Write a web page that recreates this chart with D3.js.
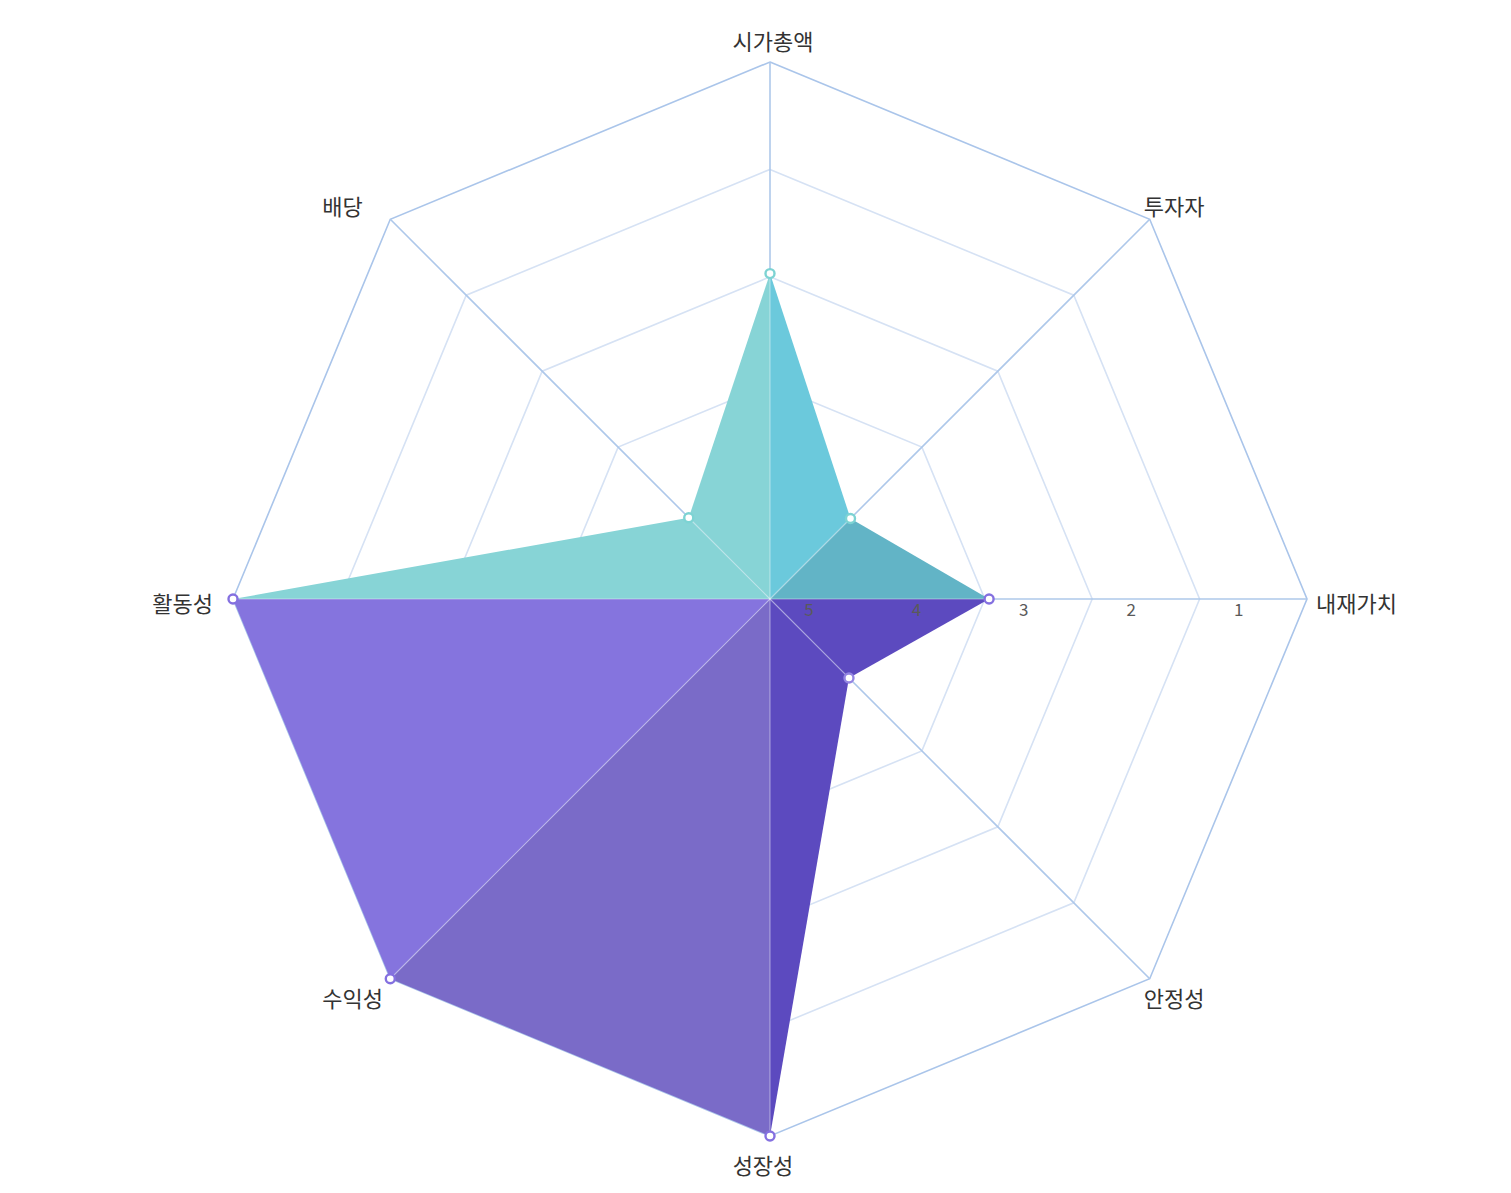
<!DOCTYPE html>
<html>
<head>
<meta charset="utf-8">
<script src="https://cdn.jsdelivr.net/npm/d3@7"></script>
<style>
  html, body { margin: 0; padding: 0; background: #fff; }
  svg { display: block; }
  text { font-family: "Noto Sans CJK KR", "Noto Sans", sans-serif; }
</style>
</head>
<body>
<svg id="chart" width="1511" height="1193"></svg>
<script>
const categories = ['시가총액', '투자자', '내재가치', '안정성', '성장성', '수익성', '활동성', '배당'];
const values = [1.97, 3.94, 2.96, 3.96, 0, 0, 0, 3.93];
const tickValues = [5, 4, 3, 2, 1];
const sectorColors = ['#6BC9DC', '#62B4C6', '#5C4ABF', '#5C4ABF', '#7A6BC8', '#8574DE', '#87D4D6', '#87D4D6'];
const markerColors = ['#7DD3D3', '#7DD3D3', '#8470E0', '#9486E2', '#8470E0', '#8470E0', '#8470E0', '#7DD3D3'];

const svg = d3.select('#chart');
const cx = 770, cy = 599, R = 537;
const n = categories.length;

const r = d3.scaleLinear().domain([5, 0]).range([0, R]);
const angle = d3.scaleLinear().domain([0, n]).range([0, 2 * Math.PI]);
const pt = (i, rad) => [cx + rad * Math.sin(angle(i)), cy - rad * Math.cos(angle(i))];

const g = svg.append('g');

// grid rings
const ringVals = [4, 3, 2, 1, 0];
ringVals.forEach(v => {
  const pts = d3.range(n).map(i => pt(i, r(v)));
  g.append('polygon')
    .attr('points', pts.map(p => p.join(',')).join(' '))
    .attr('fill', 'none')
    .attr('stroke', v === 0 ? '#AAC5EA' : '#D6E2F4')
    .attr('stroke-width', 1.6);
});

// axes
d3.range(n).forEach(i => {
  const p = pt(i, R);
  g.append('line')
    .attr('x1', cx).attr('y1', cy).attr('x2', p[0]).attr('y2', p[1])
    .attr('stroke', '#AEC8EA').attr('stroke-width', 1.6);
});

// sectors
const dataPts = values.map((v, i) => pt(i, r(v)));
d3.range(n).forEach(i => {
  const a = dataPts[i], b = dataPts[(i + 1) % n];
  g.append('polygon')
    .attr('points', [[cx, cy], a, b].map(p => p.join(',')).join(' '))
    .attr('fill', sectorColors[i]);
});

// separators
dataPts.forEach(p => {
  g.append('line')
    .attr('x1', cx).attr('y1', cy).attr('x2', p[0]).attr('y2', p[1])
    .attr('stroke', 'rgba(255,255,255,0.4)').attr('stroke-width', 1.2);
});

// tick labels
tickValues.forEach(v => {
  g.append('text')
    .attr('x', cx + r(v) + 39)
    .attr('y', cy + 17)
    .attr('text-anchor', 'middle')
    .attr('font-family', 'Inter, "Noto Sans", sans-serif')
    .attr('font-size', 17)
    .attr('fill', '#5a5a5a')
    .text(v);
});

// markers
dataPts.forEach((p, i) => {
  g.append('circle')
    .attr('cx', p[0]).attr('cy', p[1]).attr('r', 4.5)
    .attr('fill', '#fff')
    .attr('stroke', markerColors[i])
    .attr('stroke-width', 2.4);
});

// category labels
categories.forEach((c, i) => {
  const p = pt(i, R);
  const s = Math.sin(angle(i)), co = Math.cos(angle(i));
  let x = p[0], y = p[1], anchor = 'middle';
  if (Math.abs(s) < 0.01) {
    y = co > 0 ? p[1] - 12 : p[1] + 38;
    x = co > 0 ? p[0] + 3 : p[0] - 7;
  } else if (Math.abs(co) < 0.01) {
    anchor = s > 0 ? 'start' : 'end';
    x = s > 0 ? p[0] + 9 : p[0] - 20;
    y = p[1] + 13;
  } else {
    anchor = 'start';
    x = s > 0 ? p[0] - 6 : p[0] - 68;
    y = co > 0 ? p[1] - 4 : p[1] + 28;
  }
  g.append('text')
    .attr('x', x).attr('y', y)
    .attr('text-anchor', anchor)
    .attr('font-size', 22)
    .attr('fill', '#333')
    .text(c);
});
</script>
</body>
</html>
